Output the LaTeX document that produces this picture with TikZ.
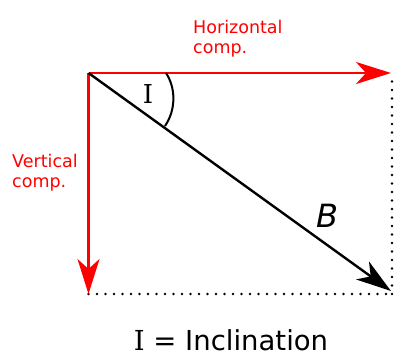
\documentclass[tikz,border=0pt]{standalone}
\usepackage{fontspec}
\setmainfont{DejaVu Sans}
\newfontfamily\serifI{DejaVu Serif}
\usetikzlibrary{arrows.meta}
\definecolor{vred}{RGB}{255,0,0}
\tikzset{
  comp/.style={draw=vred, line width=2.4pt, -{Stealth[length=35pt, width=22pt, inset=10pt]}},
  vecB/.style={draw=black, line width=2.4pt, -{Stealth[length=35pt, width=22pt, inset=10pt]}},
  proj/.style={draw=black, line width=2.7pt, line cap=round, dash pattern=on 0pt off 8.5pt},
  lbl/.style={text=vred, font=\fontsize{17.5}{20}\selectfont, align=left, inner sep=0pt},
}
\begin{document}
\begin{tikzpicture}[x=1pt, y=-1pt]
\useasboundingbox (0,0) rectangle (395,356);
\coordinate (O) at (88.5,73);
\coordinate (H) at (391,73);
\coordinate (V) at (88.5,294);
\coordinate (C) at (391,291);
\coordinate (HD) at (392,78);
\coordinate (CD) at (392,294);
\coordinate (VD) at (88.5,294);
\coordinate (A1) at (166,73);
\coordinate (A2) at (165,126);
% projections
\draw[proj] (CD) -- (HD);
\draw[proj] (VD) -- (CD);
% components
\draw[comp] (O) -- (H);
\draw[comp] (O) -- (V);
% B vector
\draw[vecB] (O) -- (C);
% angle arc
\draw[line width=2pt] (A1) .. controls (176,88) and (176,110) .. (A2);
% labels
\node[lbl, anchor=base west] (hl) at (193,33) {Horizontal};
\node[lbl, anchor=base west] (hc) at (193,53) {comp.};
\node[lbl, anchor=base west] (vl) at (12,167) {Vertical};
\node[lbl, anchor=base west] (vc) at (12,187) {comp.};
\node[inner sep=0pt, font=\serifI\fontsize{26}{28}\selectfont] (ang) at (148,94) {I};
\node[inner sep=0pt, font=\fontsize{32}{34}\selectfont\itshape] (bl) at (327,216) {B};
\node[inner sep=0pt, anchor=base, font=\fontsize{27.5}{30}\selectfont] (cap) at (231,350) {{\serifI I} = Inclination};
\end{tikzpicture}
\end{document}
